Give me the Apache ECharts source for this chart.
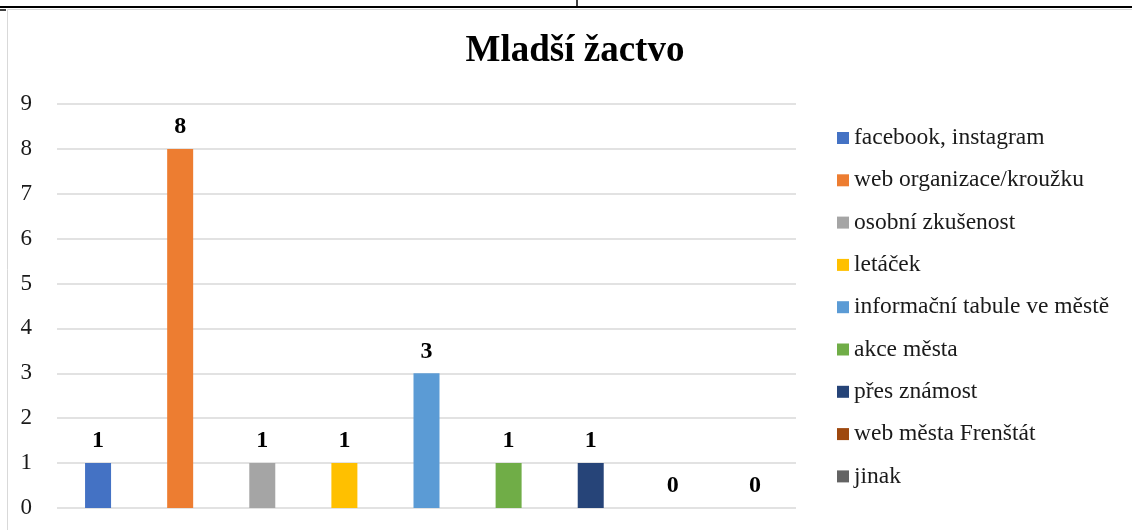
<!DOCTYPE html>
<html>
<head>
<meta charset="utf-8">
<script src="https://cdn.jsdelivr.net/npm/echarts@6/dist/echarts.min.js"></script>
<style>
	html, body { margin: 0; padding: 0; background: #fff; }
	#main { width: 1132px; height: 530px; }
</style>
</head>
<body>
<div id="main"></div>
<script>
// kategorie (zároveň položky legendy)
var categories = ['facebook, instagram', 'web organizace/kroužku', 'osobní zkušenost', 'letáček',
	'informační tabule ve městě', 'akce města', 'přes známost', 'web města Frenštát', 'jinak'];
// počty odpovědí
var values = [1, 8, 1, 1, 3, 1, 1, 0, 0];
var colors = ['#4472C4', '#ED7D31', '#A5A5A5', '#FFC000', '#5B9BD5', '#70AD47', '#264478', '#9E480E', '#636363'];
var yTicks = { min: 0, max: 9, interval: 1 };

var serif = '"Liberation Serif", "Times New Roman", serif';

/**
 * @description jedna řada na kategorii, aby legenda měla 9 položek
 */
var series = categories.map(function(name, i) {
	var data = values.map(function(v, j) {
		return j === i ? v : '-';
	});
	return {
		name: name,
		type: 'bar',
		stack: 'vse',
		barWidth: 26,
		itemStyle: { color: colors[i] },
		label: {
			show: true,
			position: 'top',
			distance: 10,
			fontFamily: serif,
			fontWeight: 'bold',
			fontSize: 24,
			color: '#000'
		},
		data: data
	};
});

var chart = echarts.init(document.getElementById('main'));
chart.setOption({
	animation: false,
	color: colors,
	title: {
		text: 'Mladší žactvo',
		left: 575,
		top: 33,
		padding: 0,
		textAlign: 'center',
		textStyle: {
			fontFamily: serif,
			fontWeight: 'bold',
			fontSize: 37,
			color: '#000'
		}
	},
	legend: {
		orient: 'vertical',
		left: 837,
		top: 126,
		padding: 0,
		itemWidth: 12,
		itemHeight: 12,
		itemGap: 18.3,
		icon: 'rect',
		data: categories,
		textStyle: {
			fontFamily: serif,
			fontSize: 23.5,
			lineHeight: 24,
			color: '#1a1a1a'
		}
	},
	grid: { left: 57, right: 336, top: 104, bottom: 22 },
	xAxis: {
		type: 'category',
		data: categories,
		axisLine: { show: false },
		axisTick: { show: false },
		axisLabel: { show: false }
	},
	yAxis: {
		type: 'value',
		min: yTicks.min,
		max: yTicks.max,
		interval: yTicks.interval,
		axisLine: { show: false },
		axisTick: { show: false },
		axisLabel: {
			margin: 25,
			fontFamily: serif,
			fontSize: 23,
			color: '#1a1a1a'
		},
		splitLine: { lineStyle: { color: '#d9d9d9', width: 1.5 } }
	},
	// rámeček stránky
	graphic: [
		{ type: 'line', shape: { x1: 0, y1: 7, x2: 1132, y2: 7 }, style: { stroke: '#000', lineWidth: 2 } },
		{ type: 'line', shape: { x1: 577, y1: 0, x2: 577, y2: 7 }, style: { stroke: '#000', lineWidth: 1.5 } },
		{ type: 'line', shape: { x1: 0, y1: 10, x2: 6, y2: 10 }, style: { stroke: '#000', lineWidth: 1.5 } },
		{ type: 'line', shape: { x1: 7.5, y1: 9.5, x2: 1132, y2: 9.5 }, style: { stroke: '#d9d9d9', lineWidth: 1 } },
		{ type: 'line', shape: { x1: 7.5, y1: 9.5, x2: 7.5, y2: 530 }, style: { stroke: '#d9d9d9', lineWidth: 1 } }
	],
	series: series
});
</script>
</body>
</html>
